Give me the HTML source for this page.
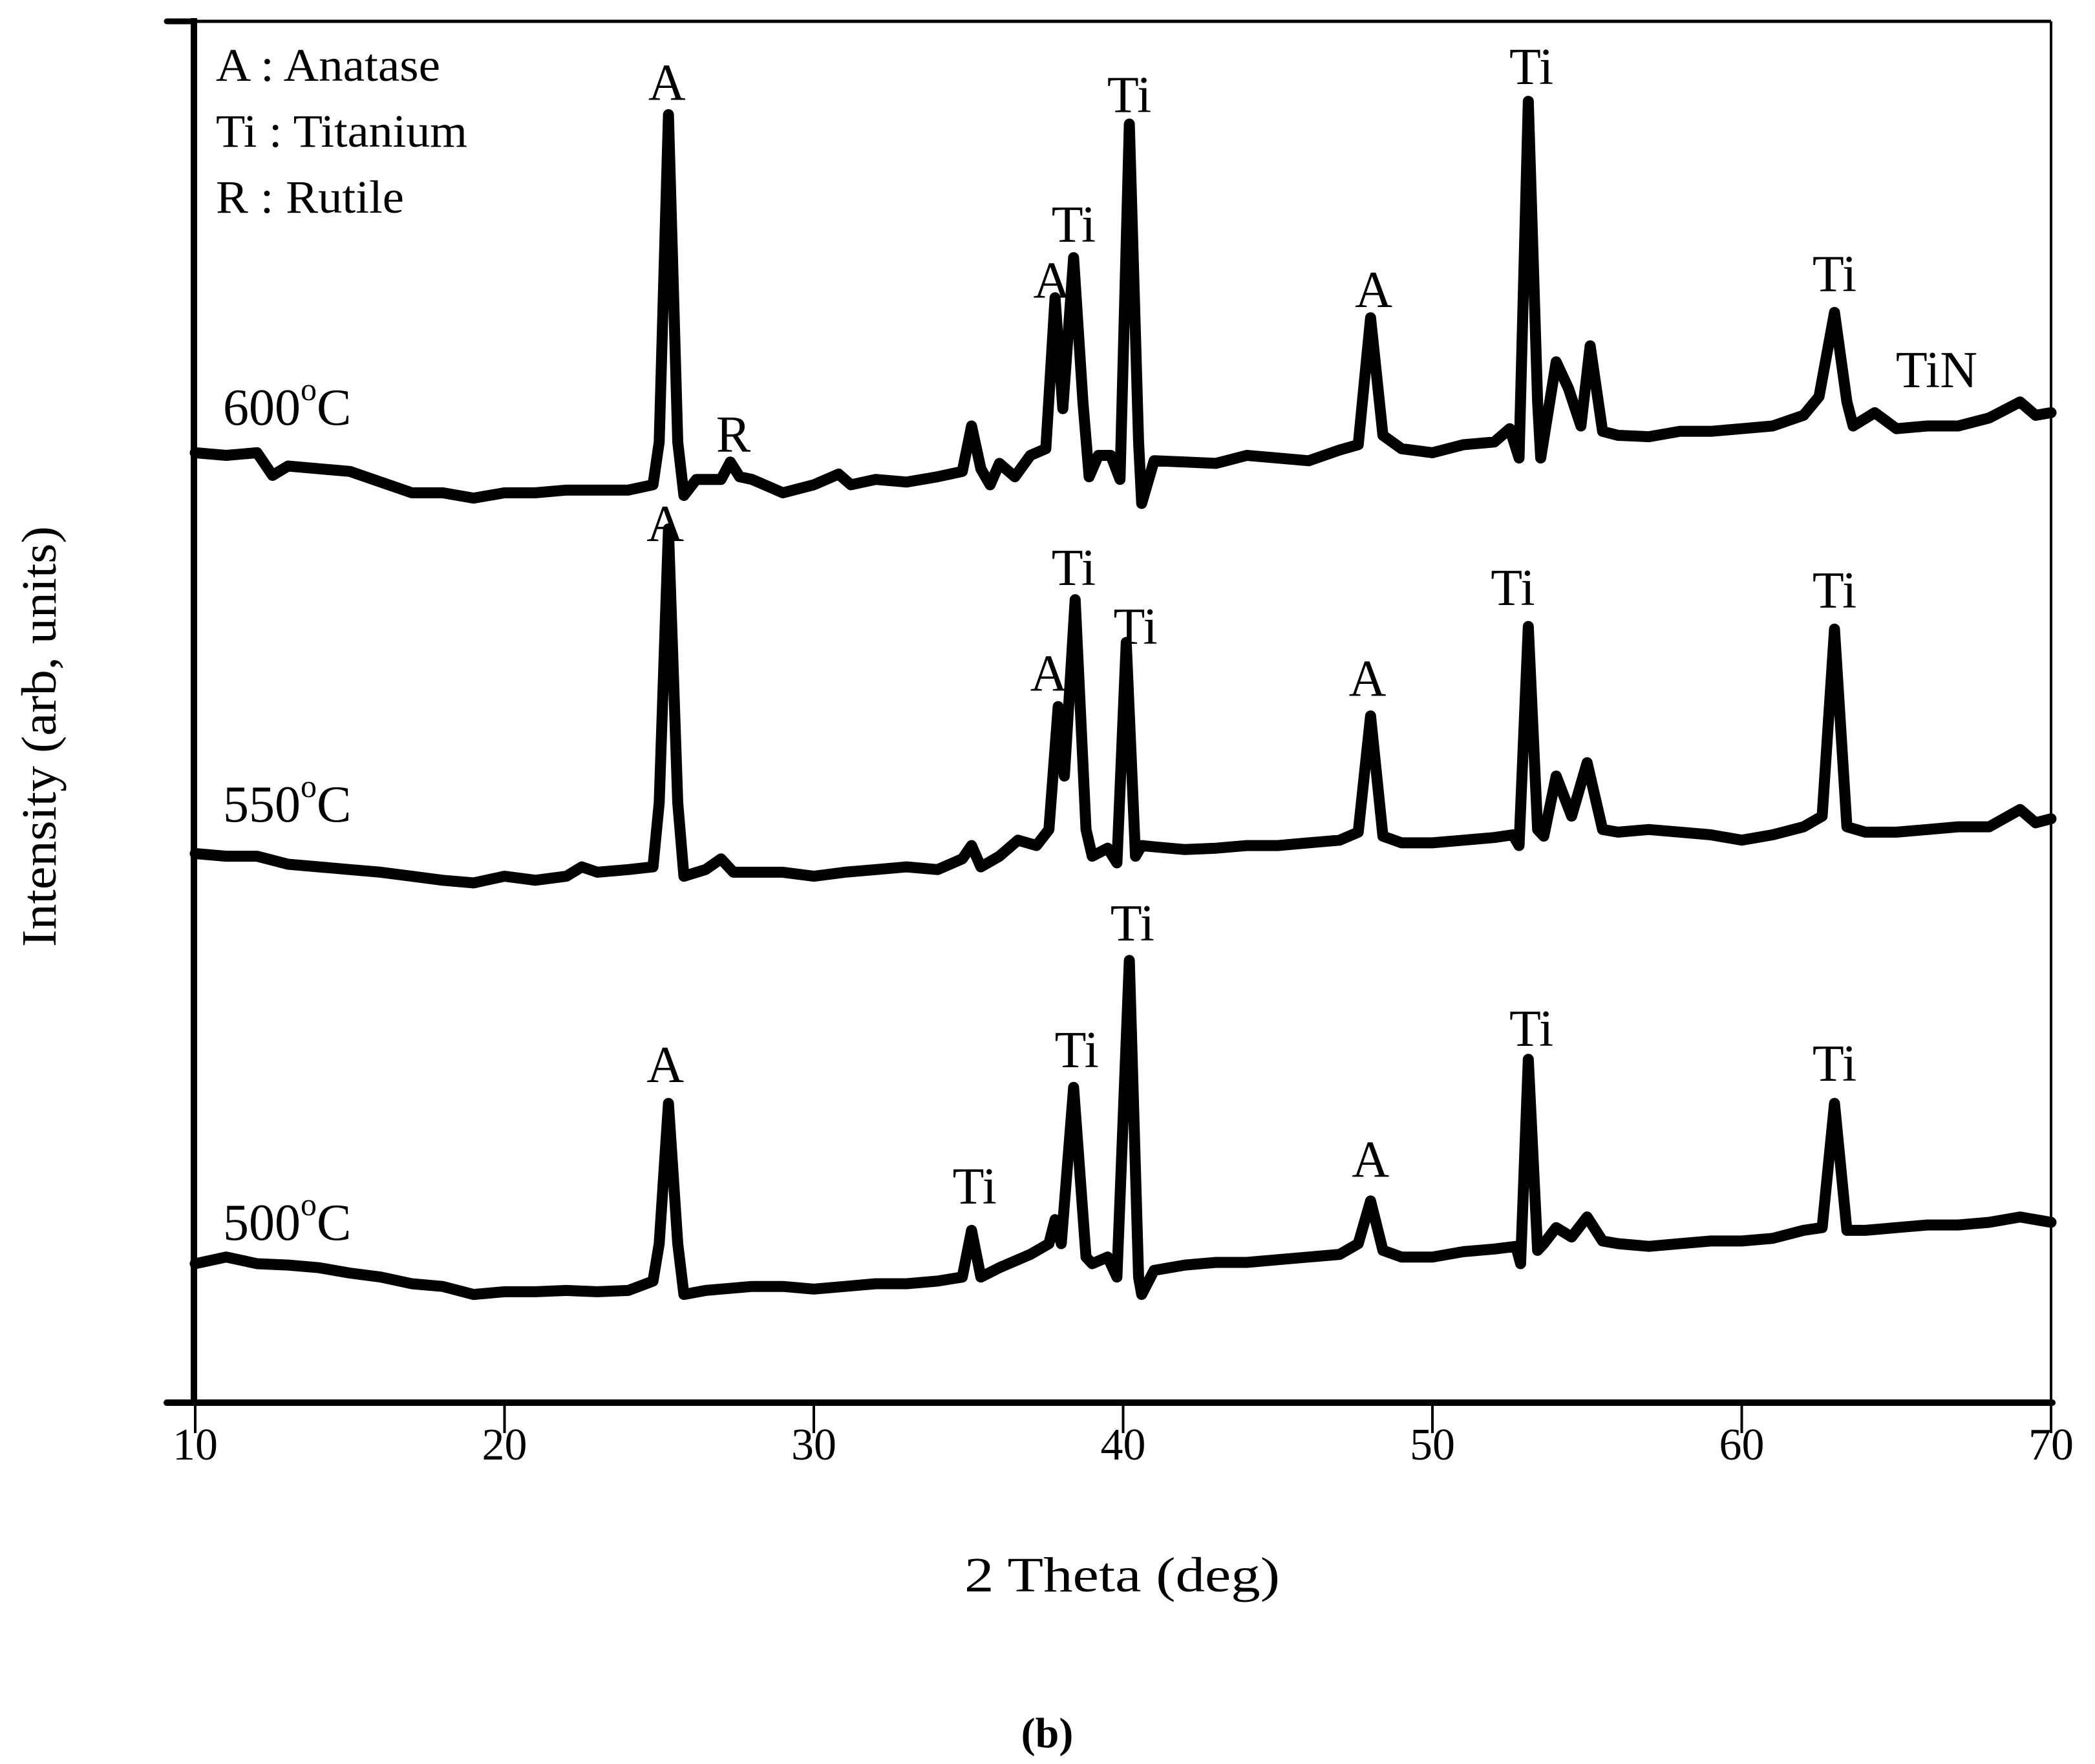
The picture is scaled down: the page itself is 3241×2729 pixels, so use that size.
<!DOCTYPE html>
<html><head><meta charset="utf-8"><style>
html,body{margin:0;padding:0;background:#fff}
svg{display:block}
text{font-family:"Liberation Serif",serif;fill:#000}
</style></head><body>
<svg id="chart" width="3241" height="2729" viewBox="0 0 3241 2729">
<g id="axes"></g>
<g id="series"></g>
<g id="labels"></g>
<text x="334" y="125" font-size="72" textLength="347" lengthAdjust="spacingAndGlyphs">A : Anatase</text>
<text x="334" y="227" font-size="72" textLength="389" lengthAdjust="spacingAndGlyphs">Ti : Titanium</text>
<text x="334" y="329" font-size="72" textLength="291" lengthAdjust="spacingAndGlyphs">R  : Rutile</text>
<text transform="translate(86,1140) rotate(-90)" font-size="76" x="-325" textLength="651" lengthAdjust="spacingAndGlyphs">Intensity (arb, units)</text>
<text x="1492" y="2462" font-size="76" textLength="488" lengthAdjust="spacingAndGlyphs">2 Theta (deg)</text>
<text x="1620" y="2703" text-anchor="middle" font-size="66" font-weight="bold">(b)</text>
</svg>
<script>
const xTicks = [10,20,30,40,50,60,70];
const xTickLabels = ["10","20","30","40","50","60","70"];
const x600 = [10,11,12,12.5,13,14,15,16,17,18,19,20,21,22,23,24,24.8,25.0,25.3,25.6,25.8,26.2,27,27.3,27.6,28,29,30,30.8,31.2,32,33,34,34.8,35.1,35.4,35.7,36,36.5,37,37.5,37.8,38.05,38.4,38.7,38.9,39.2,39.6,39.9,40.2,40.5,40.6,41,42,43,44,45,46,47,47.6,48,48.4,49,50,51,52,52.5,52.8,53.1,53.4,53.5,54,54.4,54.8,55.1,55.5,56,57,58,59,60,61,62,62.5,63,63.4,63.6,64.3,65,66,67,68,69,69.5,70];
const y600 = [711,709,711,694,701,699,697,689,681,681,677,681,681,683,683,683,687,719,964,719,679,691,691,704,693,691,681,687,695,687,691,689,693,697,731,699,687,703,693,709,714,827,744,857,749,693,709,709,691,957,719,673,705,704,703,709,707,705,713,717,812,724,714,711,717,719,729,707,974,749,707,779,759,731,791,727,724,723,727,727,729,731,739,753,816,749,731,741,729,731,731,737,749,739,741];
const x550 = [10,11,12,13,14,15,16,17,18,19,20,21,22,22.5,23,24,24.8,25.0,25.3,25.6,25.8,26.5,27,27.4,28,29,30,31,32,33,34,34.8,35.1,35.4,36,36.6,37.2,37.6,37.9,38.1,38.45,38.8,39,39.5,39.8,40.1,40.4,40.6,41,42,43,44,45,46,47,47.6,48,48.4,49,50,51,52,52.6,52.8,53.1,53.4,53.6,54,54.5,55,55.5,56,57,58,59,60,61,62,62.6,63,63.4,64,65,66,67,68,69,69.5,70];
const y550 = [411,409,409,403,401,399,397,394,391,389,394,391,394,401,397,399,401,449,654,449,394,399,407,397,397,397,394,397,399,401,399,407,417,401,409,421,417,429,521,469,601,429,409,415,404,569,409,417,416,414,415,417,417,419,421,427,514,424,419,419,421,423,425,417,581,429,424,469,439,479,429,427,429,427,425,421,425,431,439,579,431,427,427,429,431,431,444,434,437];
const x500 = [10,11,12,13,14,15,16,17,18,19,20,21,22,23,24,24.8,25.0,25.3,25.6,25.8,26.5,27,28,29,30,31,32,33,34,34.8,35.1,35.4,36,37,37.6,37.8,38.0,38.4,38.8,39,39.5,39.8,40.2,40.5,40.6,41,42,43,44,45,46,47,47.6,48,48.4,49,50,51,52,52.7,52.85,53.1,53.4,53.6,54,54.5,55,55.5,56,57,58,59,60,61,62,62.6,63,63.4,64,65,66,67,68,69,70];
const y500 = [104,109,104,103,101,97,94,89,87,81,83,83,84,83,84,91,119,224,119,81,84,85,87,87,85,87,89,89,91,94,129,94,101,111,119,137,119,236,109,104,109,94,331,94,81,99,103,105,105,107,109,111,119,151,114,109,109,113,115,117,104,257,114,119,131,124,139,121,119,117,119,121,121,123,129,131,224,129,129,131,133,133,135,139,135];
const peakText = ["A","R","A","Ti","Ti","A","Ti","Ti","TiN","A","Ti","A","Ti","A","Ti","Ti","A","Ti","Ti","Ti","A","Ti","Ti"];
const peakX = [25.25,27.4,37.7,38.4,40.2,48.1,53.2,63.0,66.3,25.2,38.4,37.6,40.4,47.9,52.6,63.0,25.2,35.2,38.5,40.3,48.0,53.2,63.0];
const peakY = [975,712,827,869,966,820,987,832,760,645,612,533,568,529,597,595,240,149,251,346,169,267,241];
const tempText = ["600","550","500"];
const tempY = [732,435,122];

const NS="http://www.w3.org/2000/svg";
const X0=302,X1=3173,Y0=2170,K=2.067;
function sx(v){return X0+(v-10)/60*(X1-X0);}
function sy(v){return Y0-v*K;}
function mk(tag,attrs,parent){const e=document.createElementNS(NS,tag);for(const k in attrs)e.setAttribute(k,attrs[k]);parent.appendChild(e);return e;}
const axes=document.getElementById('axes');
let e;
e=mk('line',{x1:300,y1:33,x2:3173,y2:33,stroke:'#000','stroke-width':5},axes);


e=mk('line',{x1:3173,y1:33,x2:3173,y2:2170,stroke:'#000','stroke-width':4},axes);


e=mk('line',{x1:300,y1:28,x2:300,y2:2175,stroke:'#000','stroke-width':10},axes);


e=mk('line',{x1:258,y1:2170,x2:3175,y2:2170,stroke:'#000','stroke-width':10,'stroke-linecap':'round'},axes);


e=mk('line',{x1:258,y1:33,x2:300,y2:33,stroke:'#000','stroke-width':9,'stroke-linecap':'round'},axes);


xTicks.forEach((t,i)=>{
  const x=sx(t);
  const l=mk('line',{x1:x,y1:2170,x2:x,y2:2217,stroke:'#000','stroke-width':4},axes);
  
  
  const tx=mk('text',{x:x,y:2258,'text-anchor':'middle','font-size':70},axes);
  tx.textContent=xTickLabels[i];
  
  
});
const series=document.getElementById('series');
[[x600,y600,'series-600c'],[x550,y550,'series-550c'],[x500,y500,'series-500c']].forEach(s=>{
  const pts=s[0].map((x,i)=>sx(x).toFixed(1)+','+sy(s[1][i]).toFixed(1)).join(' ');
  const p=mk('polyline',{points:pts,fill:'none',stroke:'#000','stroke-width':17,'stroke-linejoin':'round','stroke-linecap':'round'},series);
  
  
});
const labels=document.getElementById('labels');
peakText.forEach((t,i)=>{
  const tx=mk('text',{x:sx(peakX[i]),y:sy(peakY[i]),'text-anchor':'middle','font-size':80},labels);
  tx.textContent=t;
  
  
});
tempText.forEach((t,i)=>{
  const tx=mk('text',{x:345,y:sy(tempY[i]),'font-size':80},labels);
  tx.textContent=t;
  const sup=mk('tspan',{dy:-38,'font-size':50},tx);
  sup.textContent='o';
  const c=mk('tspan',{dy:38},tx);
  c.textContent='C';
  
  
});
</script>
</body></html>
